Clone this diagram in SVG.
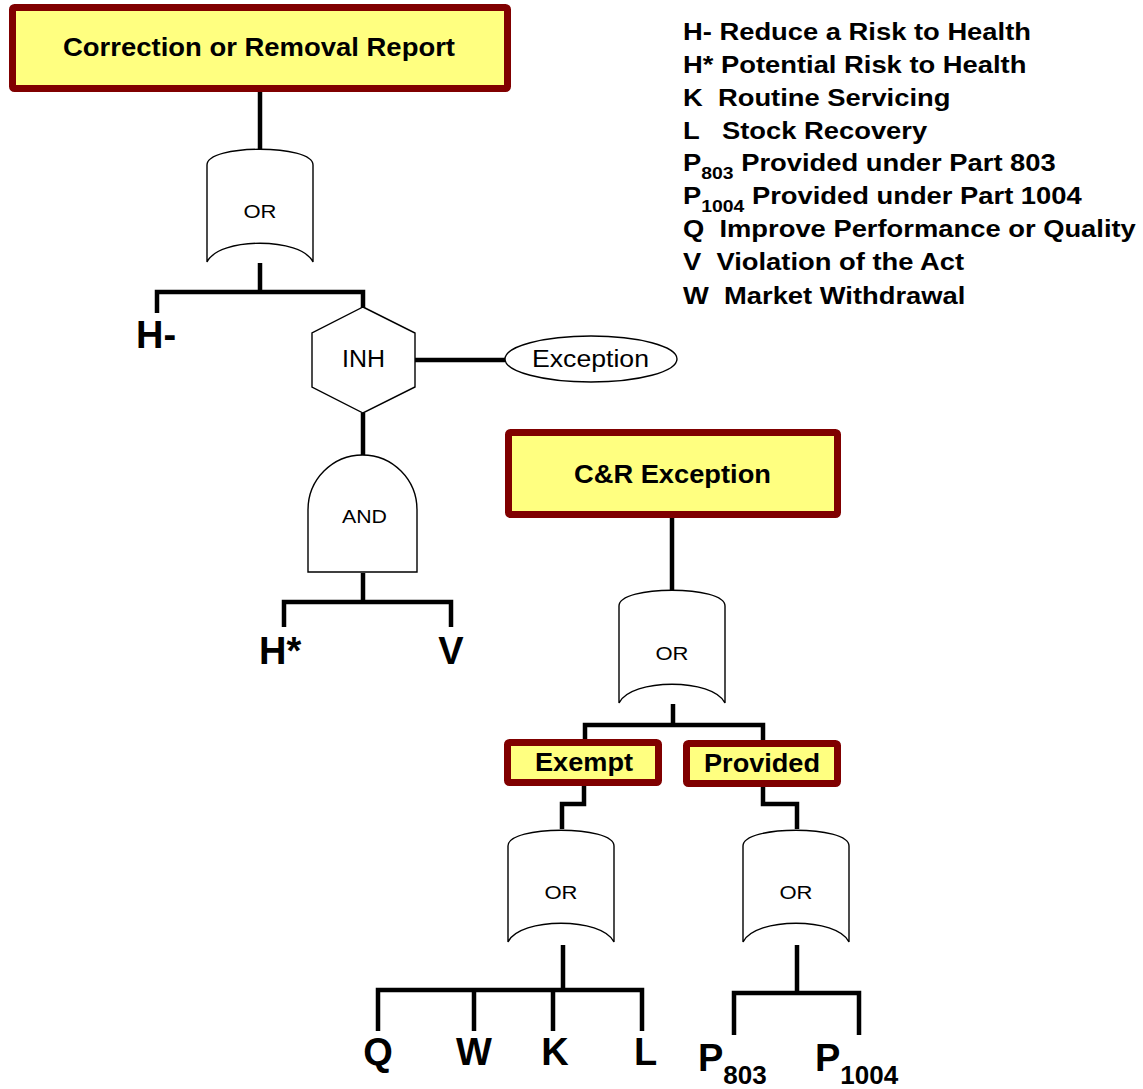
<svg xmlns="http://www.w3.org/2000/svg" width="1143" height="1089" viewBox="0 0 1143 1089">
<style>
.box{fill:#FFFF80;stroke:#800000;stroke-width:7;}
.gate{fill:#FFFFFF;stroke:#000;stroke-width:1.4;}
.wire{fill:none;stroke:#000;stroke-width:4.5;stroke-linejoin:miter;stroke-linecap:butt;}
.bl{font-family:"Liberation Sans",Arial,sans-serif;font-weight:bold;font-size:24px;fill:#000;}
.bx{font-size:26px;}
.big{font-family:"Liberation Sans",Arial,sans-serif;font-weight:bold;font-size:38px;fill:#000;}
.g{font-family:"Liberation Sans",Arial,sans-serif;font-size:19px;fill:#000;text-anchor:middle;}
.m{font-family:"Liberation Sans",Arial,sans-serif;font-size:23px;fill:#000;text-anchor:middle;}
.c{text-anchor:middle;}
</style>
<rect width="1143" height="1089" fill="#FFFFFF"/>
<g id="connectors">
<path class="wire" d="M260,92 V149"/>
<path class="wire" d="M260,263 V292 M157,313 V292 H363 V308"/>
<path class="wire" d="M415,360 H505"/>
<path class="wire" d="M363,413 V456"/>
<path class="wire" d="M363,573 V602 M284,627 V602 H451 V627"/>
<path class="wire" d="M672,518 V590"/>
<path class="wire" d="M673,704 V725 M585,742 V725 H763 V743"/>
<path class="wire" d="M584,786 V804 H562 V829"/>
<path class="wire" d="M763,787 V804 H797 V829"/>
<path class="wire" d="M563,945 V990 M378,1031 V990 H642 V1031 M474,990 V1031 M553,990 V1031"/>
<path class="wire" d="M797,945 V993 M734,1035 V993 H859 V1035"/>
</g>
<g id="top-event">
<rect class="box" x="12.5" y="7.5" width="495" height="81" rx="2"/>
<text class="bl bx c" x="259" y="56" textLength="392" lengthAdjust="spacingAndGlyphs">Correction or Removal Report</text>
</g>
<g id="or-gate-1">
<path class="gate" d="M207,165 C207,144 313,144 313,165 L313,262 C301,237 219,237 207,262 Z"/>
<text class="g" x="260" y="218" textLength="33" lengthAdjust="spacingAndGlyphs">OR</text>
</g>
<g id="event-h-minus"><text class="big" x="136" y="348">H-</text></g>
<g id="inh-gate">
<polygon class="gate" points="363,307 415,333 415,387 363,413 312,387 312,333"/>
<text class="m" x="363.5" y="367" textLength="43" lengthAdjust="spacingAndGlyphs">INH</text>
</g>
<g id="exception-condition">
<ellipse class="gate" cx="591" cy="359" rx="86" ry="23"/>
<text class="m" x="590.5" y="367" textLength="117" lengthAdjust="spacingAndGlyphs">Exception</text>
</g>
<g id="and-gate">
<path class="gate" d="M308,572 V510 A54.5,55 0 0 1 417,510 V572 Z"/>
<text class="g" x="364.5" y="523" textLength="45" lengthAdjust="spacingAndGlyphs">AND</text>
</g>
<g id="event-h-star"><text class="big" x="259" y="664">H*</text></g>
<g id="event-v"><text class="big c" x="451" y="664">V</text></g>
<g id="cr-exception">
<rect class="box" x="508.5" y="432.5" width="329" height="82" rx="2"/>
<text class="bl bx c" x="672.5" y="483" textLength="197" lengthAdjust="spacingAndGlyphs">C&amp;R Exception</text>
</g>
<g id="or-gate-2">
<path class="gate" d="M619,606 C619,585 725,585 725,606 L725,703 C713,678 631,678 619,703 Z"/>
<text class="g" x="672" y="660" textLength="33" lengthAdjust="spacingAndGlyphs">OR</text>
</g>
<g id="exempt">
<rect class="box" x="507.5" y="742.5" width="151" height="40" rx="2"/>
<text class="bl bx c" x="584" y="771" textLength="98" lengthAdjust="spacingAndGlyphs">Exempt</text>
</g>
<g id="provided">
<rect class="box" x="686.5" y="743.5" width="151" height="40" rx="2"/>
<text class="bl bx c" x="762" y="772" textLength="116" lengthAdjust="spacingAndGlyphs">Provided</text>
</g>
<g id="or-gate-3">
<path class="gate" d="M508,846 C508,825 614,825 614,846 L614,942 C602,917 520,917 508,942 Z"/>
<text class="g" x="561" y="899" textLength="33" lengthAdjust="spacingAndGlyphs">OR</text>
</g>
<g id="or-gate-4">
<path class="gate" d="M743,846 C743,825 849,825 849,846 L849,942 C837,917 755,917 743,942 Z"/>
<text class="g" x="796" y="899" textLength="33" lengthAdjust="spacingAndGlyphs">OR</text>
</g>
<g id="event-q"><text class="big c" x="378" y="1065">Q</text></g>
<g id="event-w"><text class="big c" x="474" y="1065">W</text></g>
<g id="event-k"><text class="big c" x="555" y="1065">K</text></g>
<g id="event-l"><text class="big" x="634" y="1065">L</text></g>
<g id="event-p803"><text class="big" x="698" y="1071">P<tspan font-size="26" dy="13">803</tspan></text></g>
<g id="event-p1004"><text class="big" x="815" y="1071">P<tspan font-size="26" dy="13">1004</tspan></text></g>
<g id="legend" transform="translate(683,0) scale(1.14,1)">
<text class="bl" x="0" y="40" xml:space="preserve">H- Reduce a Risk to Health</text>
<text class="bl" x="0" y="73" xml:space="preserve">H* Potential Risk to Health</text>
<text class="bl" x="0" y="106" xml:space="preserve">K  Routine Servicing</text>
<text class="bl" x="0" y="139" xml:space="preserve">L   Stock Recovery</text>
<text class="bl" x="0" y="171" xml:space="preserve">P<tspan font-size="17" dy="8">803</tspan><tspan dy="-8"> Provided under Part 803</tspan></text>
<text class="bl" x="0" y="204" xml:space="preserve">P<tspan font-size="17" dy="8">1004</tspan><tspan dy="-8"> Provided under Part 1004</tspan></text>
<text class="bl" x="0" y="237" xml:space="preserve">Q  Improve Performance or Quality</text>
<text class="bl" x="0" y="270" xml:space="preserve">V  Violation of the Act</text>
<text class="bl" x="0" y="304" xml:space="preserve">W  Market Withdrawal</text>
</g>
</svg>
